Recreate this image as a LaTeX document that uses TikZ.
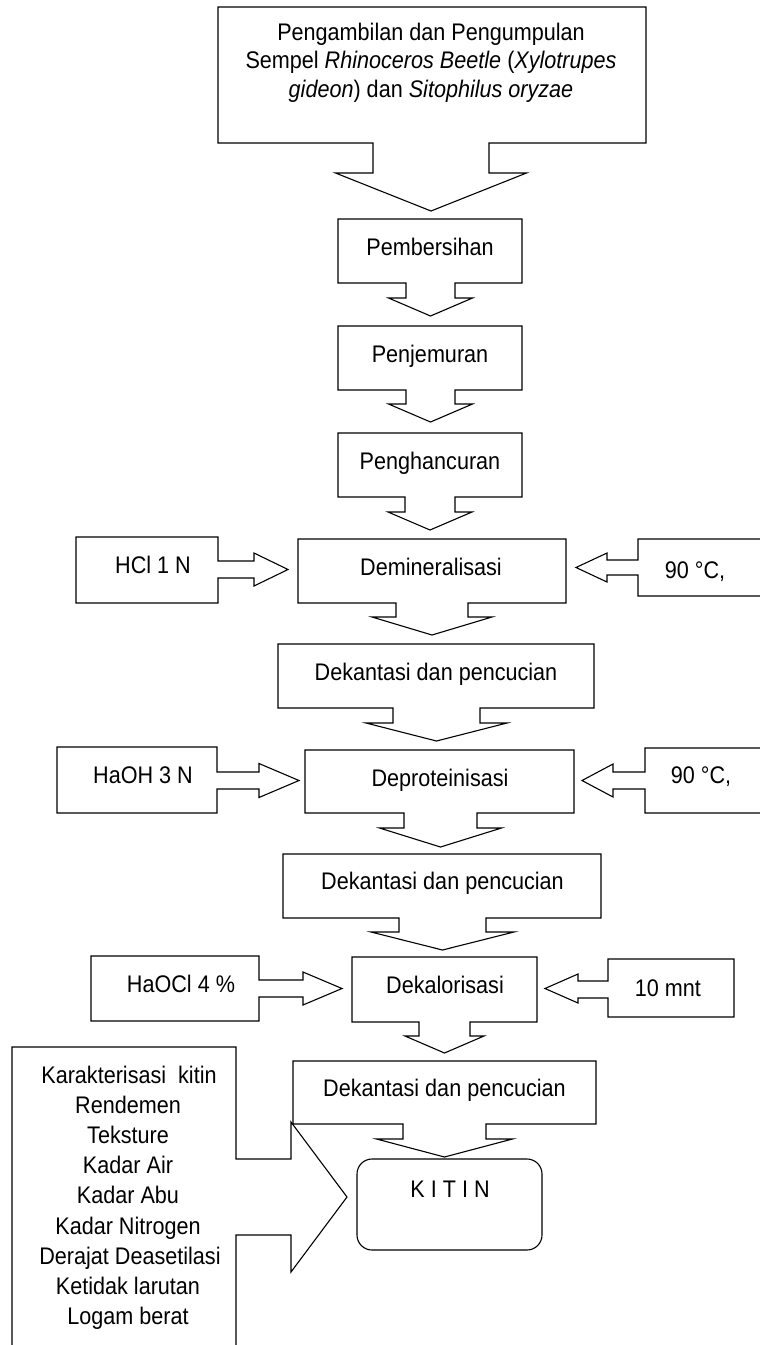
\documentclass[tikz,border=0pt]{standalone}
\usepackage{fontspec}
\usepackage{graphicx}
\setmainfont{Liberation Sans}
\newcommand\fsz{\fontsize{24}{30}\selectfont}
\newcommand\nar[1]{\scalebox{0.9}[1]{#1}}
% down callout: l t r b cx stemhalf stembottom winghalf tipy
\newcommand\dcall[9]{\draw[callout line] (#1,#2) -- (#3,#2) -- (#3,#4) -- ({#5+#6},#4) -- ({#5+#6},#7) -- ({#5+#8},#7) -- (#5,#9) -- ({#5-#8},#7) -- ({#5-#6},#7) -- ({#5-#6},#4) -- (#1,#4) -- cycle;}
% right-pointing callout: l t r b cy stemhalf stemx winghalf tipx
\newcommand\rcall[9]{\draw[callout line] (#1,#2) -- (#3,#2) -- (#3,{#5-#6}) -- (#7,{#5-#6}) -- (#7,{#5-#8}) -- (#9,#5) -- (#7,{#5+#8}) -- (#7,{#5+#6}) -- (#3,{#5+#6}) -- (#3,#4) -- (#1,#4) -- cycle;}
% left-pointing callout, open at the right edge
\newcommand\lcall[9]{\draw[callout line] (#3,#2) -- (#1,#2) -- (#1,{#5-#6}) -- (#7,{#5-#6}) -- (#7,{#5-#8}) -- (#9,#5) -- (#7,{#5+#8}) -- (#7,{#5+#6}) -- (#1,{#5+#6}) -- (#1,#4) -- (#3,#4);}
\begin{document}
\begin{tikzpicture}[x=1pt,y=-1pt,
  callout line/.style={draw=black,line width=1.1pt,line join=miter},
  lbl/.style={anchor=base,inner sep=0pt,font=\fsz}]
\useasboundingbox (0,0) rectangle (760,1345);

% main column
\dcall{218}{7}{646}{143}{431}{58}{173}{95.5}{211}
\dcall{338}{219}{522}{283}{430.5}{24.5}{298}{42}{316}
\dcall{338}{326}{522}{390}{430.5}{24.5}{404}{42}{422}
\dcall{338}{433}{522}{497}{430}{25}{512}{42}{530}
\dcall{298}{539}{566}{603}{432}{36}{617}{60}{635}
\dcall{278}{644}{594}{708}{436.5}{43.5}{723}{70.5}{741}
\dcall{305}{750}{574}{813}{440.5}{36.5}{828}{61}{847}
\dcall{283}{854}{601}{918}{442.5}{43.5}{932}{71.5}{950}
\dcall{352}{957}{537}{1022}{444.5}{25.5}{1036}{39.5}{1053}
\dcall{293}{1061}{596}{1124}{444.5}{41.5}{1139}{68}{1157}

% left inputs
\rcall{76}{537}{218}{603}{569.5}{8.5}{254}{16.5}{288}
\rcall{57}{747}{217}{813}{780.5}{8.5}{259}{17}{299}
\rcall{91}{956}{259}{1021}{988.5}{8.5}{303}{16.5}{342}

% right inputs
\lcall{638}{539}{760}{596}{567.5}{7.5}{607}{14.5}{576}
\lcall{645}{748}{760}{813}{780.5}{8.5}{613}{16.5}{582}
\draw[callout line] (734,959) -- (608,959) -- (608,981) -- (578,981) -- (578,974) -- (545,988.5) -- (578,1003) -- (578,998) -- (608,998) -- (608,1017) -- (734,1017) -- cycle;

% characterisation callout
\draw[callout line] (12,1345) -- (12,1047) -- (236,1047) -- (236,1159) -- (291,1159) -- (291,1122) -- (347,1197) -- (291,1272) -- (291,1235) -- (236,1235) -- (236,1345);

% KITIN
\draw[callout line,rounded corners=15pt] (357,1159) rectangle (542,1250);

% texts
\node[lbl] (t1) at (431,40) {\nar{Pengambilan dan Pengumpulan}};
\node[lbl] (t2) at (431,68.5) {\nar{Sempel \textit{Rhinoceros Beetle} (\textit{Xylotrupes}}};
\node[lbl] (t3) at (431,97) {\nar{\textit{gideon}) dan \textit{Sitophilus oryzae}}};
\node[lbl] (pemb) at (430,255) {\nar{Pembersihan}};
\node[lbl] (penj) at (430,362) {\nar{Penjemuran}};
\node[lbl] (peng) at (430,469) {\nar{Penghancuran}};
\node[lbl] (demi) at (431,575) {\nar{Demineralisasi}};
\node[lbl] (dek1) at (436,680) {\nar{Dekantasi dan pencucian}};
\node[lbl] (depr) at (440,786) {\nar{Deproteinisasi}};
\node[lbl] (dek2) at (442.5,889) {\nar{Dekantasi dan pencucian}};
\node[lbl] (deka) at (445,993) {\nar{Dekalorisasi}};
\node[lbl] (dek3) at (444.5,1096) {\nar{Dekantasi dan pencucian}};
\node[lbl] (kitin) at (450,1197) {\nar{K I T I N}};

\node[lbl] (hcl) at (153,573) {\nar{HCl 1 N}};
\node[lbl] (haoh) at (143,783) {\nar{HaOH 3 N}};
\node[lbl] (haocl) at (181,992) {\nar{HaOCl 4 \%}};
\node[lbl] (c1) at (695,578) {\nar{90 °C,}};
\node[lbl] (c2) at (701,783) {\nar{90 °C,}};
\node[lbl] (mnt) at (668,996) {\nar{10 mnt}};

\node[lbl] (k1) at (129,1083) {\nar{Karakterisasi\ \ kitin}};
\node[lbl] (k2) at (128,1113) {\nar{Rendemen}};
\node[lbl] (k3) at (128,1143) {\nar{Teksture}};
\node[lbl] (k4) at (128,1173) {\nar{Kadar Air}};
\node[lbl] (k5) at (128,1203) {\nar{Kadar Abu}};
\node[lbl] (k6) at (128,1234) {\nar{Kadar Nitrogen}};
\node[lbl] (k7) at (130,1264) {\nar{Derajat Deasetilasi}};
\node[lbl] (k8) at (128,1294) {\nar{Ketidak larutan}};
\node[lbl] (k9) at (128,1324) {\nar{Logam berat}};
\end{tikzpicture}
\end{document}
